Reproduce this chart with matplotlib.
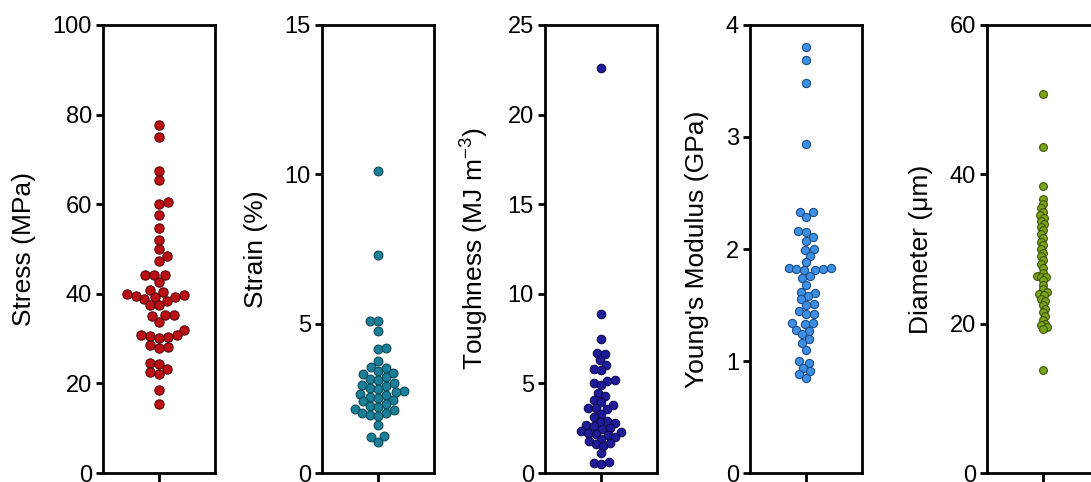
import numpy as np
import matplotlib.pyplot as plt

plt.rcParams['font.family'] = ['Liberation Sans', 'DejaVu Sans']
plt.rcParams['mathtext.default'] = 'regular'

# values
stress = [77.7, 74.9, 67.5, 65.4, 60.5, 60.1, 57.6, 54.7, 52.1, 49.9, 48.4, 47.4,
          44.3, 44.2, 44.3, 42.7, 40.8, 40.4, 39.8, 39.2, 39.2, 39.9, 38.9, 39.6,
          38.3, 37.4, 37.4, 35.2, 35.2, 35.0, 33.7, 31.9, 30.8, 30.6, 30.1, 30.4,
          30.8, 28.0, 28.2, 28.5, 24.6, 24.4, 23.2, 22.6, 22.1, 18.5, 15.5]
strain = [10.1, 7.3, 5.1, 5.1, 4.75, 4.15, 4.2, 3.75, 3.55, 3.5, 3.4, 3.35,
          3.3, 3.2, 3.15, 3.1, 3.0, 2.95, 2.9, 2.85, 2.8, 2.75,
          2.7, 2.65, 2.6, 2.55, 2.5, 2.45, 2.4, 2.3, 2.25, 2.2, 2.15,
          2.1, 2.0, 2.0, 1.95, 1.9, 1.6, 1.25, 1.2, 1.05]
toughness = [22.6, 8.85, 7.5, 6.7, 6.65, 6.3, 6.05, 5.8, 5.75, 5.2, 5.15, 5.05,
             4.9, 4.45, 4.3, 4.1, 3.95, 3.8, 3.65, 3.6, 3.55, 3.3, 3.1, 2.9,
             2.85, 2.8, 2.7, 2.6, 2.5, 2.45, 2.35, 2.3, 2.25,
             2.2, 2.1, 2.0, 1.9, 1.8, 1.7, 1.6, 1.5, 1.1, 0.6, 0.55, 0.5]
modulus = [3.80, 3.69, 3.48, 2.94, 2.33, 2.33, 2.29, 2.16, 2.15, 2.11, 2.07, 2.0,
           1.99, 1.94, 1.88, 1.83, 1.82, 1.81, 1.81, 1.82, 1.83, 1.76, 1.74, 1.68,
           1.62, 1.61, 1.58, 1.55, 1.51, 1.50, 1.45, 1.42, 1.42, 1.34, 1.33, 1.34,
           1.28, 1.27, 1.24, 1.20, 1.16, 1.10, 1.00, 0.98, 0.94, 0.91, 0.85, 0.88]
diameter = [50.8, 43.6, 38.5, 36.7, 36.0, 35.5, 35.0, 34.5, 34.2, 33.8, 33.4, 33.0,
            32.5, 32.0, 31.5, 31.0, 30.5, 30.0, 29.5, 29.0, 28.5, 28.0, 27.5, 26.8,
            26.4, 26.3, 26.2, 25.8, 25.2, 24.6, 24.2, 24.0, 23.8, 23.3, 23.0, 22.5,
            22.0, 21.5, 21.0, 20.5, 20.0, 19.8, 19.5, 19.3, 13.8]

series = [stress, strain, toughness, modulus, diameter]
labels = ['Stress (MPa)', 'Strain (%)', 'Toughness (MJ m$^{-3}$)',
          "Young's Modulus (GPa)", 'Diameter (\u03bcm)']
ymax = [100, 15, 25, 4, 60]
yticks = [[0, 20, 40, 60, 80, 100], [0, 5, 10, 15], [0, 5, 10, 15, 20, 25],
          [0, 1, 2, 3, 4], [0, 20, 40, 60]]
faces = ['#bb1016', '#1b7f98', '#201c99', '#3d8fe4', '#7ba31a']
edges = ['#560808', '#0c4a5a', '#0e0c50', '#1d4c85', '#3e560a']
overlap = [0.95, 0.92, 0.88, 0.95, 0.55]
msizes = [9.3, 8.8, 8.5, 8.2, 7.8]  # marker diameter in px

W, H = 1091, 482
fig = plt.figure(figsize=(W / 100, H / 100), dpi=100)
lefts = [103, 322, 545, 750, 987]
aw, bottom, ah = 112, 473, 448


def swarm(ypix, d):
    # simple beeswarm: place each point at the smallest |x| that does not overlap
    order = np.argsort(ypix)
    placed = []
    xs = np.zeros(len(ypix))
    steps = np.arange(0, 60, 0.25)
    cands = np.concatenate([[0], np.ravel(np.column_stack([steps[1:], -steps[1:]]))])
    for n, i in enumerate(order):
        # alternate which side is tried first so the swarm stays symmetric
        sgn = 1 if n % 2 == 0 else -1
        for c in cands * sgn:
            ok = True
            for (px, py) in placed:
                if (px - c) ** 2 + (py - ypix[i]) ** 2 < d ** 2:
                    ok = False
                    break
            if ok:
                xs[i] = c
                placed.append((c, ypix[i]))
                break
    return xs


for k, vals in enumerate(series):
    ax = fig.add_axes([lefts[k] / W, (H - bottom) / H, aw / W, ah / H])
    ax.set_ylim(0, ymax[k])
    ax.set_xlim(-1, 1)
    vals = np.array(vals)
    ypix = vals / ymax[k] * ah
    xoff = swarm(ypix, msizes[k] * overlap[k])
    x = xoff / (aw / 2)
    ax.scatter(x, vals, s=(msizes[k] * 0.72) ** 2, c=faces[k], edgecolors=edges[k],
               linewidths=0.8, zorder=3, clip_on=False)
    ax.set_yticks(yticks[k])
    ax.set_xticks([0])
    ax.set_xticklabels([''])
    for sp in ax.spines.values():
        sp.set_linewidth(2)
    ax.tick_params(axis='y', direction='out', length=5, width=2, labelsize=17, pad=3)
    ax.tick_params(axis='x', direction='out', length=9, width=2)
    ax.set_ylabel(labels[k], fontsize=19, labelpad=12)

fig.savefig('out.png', dpi=100)
